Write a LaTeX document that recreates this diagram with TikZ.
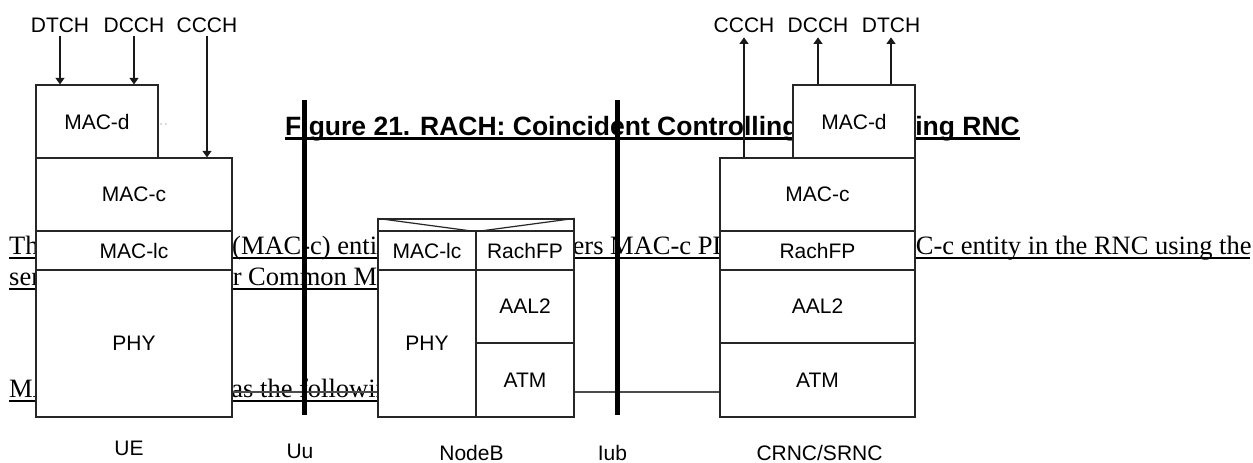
\documentclass[tikz,border=0pt]{standalone}
\usepackage{fontspec}
\setmainfont{Liberation Serif}
\newfontfamily\arialfont{Liberation Sans}
\usetikzlibrary{arrows.meta}
\tikzset{
  layer/.style={draw=black!85, fill=white, line width=1.2pt, rectangle, inner sep=0pt,
    font=\arialfont\fontsize{21}{24}\selectfont},
  chan/.style={font=\arialfont\fontsize{21}{24}\selectfont, inner sep=3.5pt, anchor=base},
  entity/.style={font=\arialfont\fontsize{21}{24}\selectfont, inner sep=0pt, anchor=base},
  para/.style={font=\fontsize{26.5}{30}\selectfont, inner sep=0pt, anchor=base west},
  ttl/.style={font=\arialfont\bfseries\fontsize{26.5}{30}\selectfont, inner sep=0pt},
  iface/.style={line width=5pt, black},
  link/.style={line width=1.2pt, black!70},
  chanarrow/.style={line width=1.1pt, black!90, -{Triangle[width=9pt,length=6.5pt]}},
  uline/.style={line width=2pt, black},
}
\begin{document}
\begin{tikzpicture}[x=1pt,y=-1pt]
\useasboundingbox (0,0) rectangle (1253,463);
% background document text
\node[ttl, anchor=base west] (ttlA) at (285,135) {Figure 21. RACH: Coincident Controlling};
\node[ttl, anchor=base east] (ttlB) at (1020,135) {Serving RNC};
\draw[line width=3pt] (ttlA.base west |- 0,138.5) -- (ttlB.base east |- 0,138.5);
\node[para] (p1a) at (9,254) {The};
\node[para] (p1b) at (232,254) {(MAC-c) entity};
\node[para] (p1c) at (519.5,254) {delivers MAC-c PDUs};
\node[para] (p1d) at (873,254) {MAC-c entity in the RNC using the};
\node[para] (p2a) at (9,285) {services};
\node[para] (p2b) at (210.5,285) {for Common MAC};
\node[para] (p3a) at (9,397) {MAC};
\node[para] (p3b) at (218,397) {has the following};
\draw[uline] (9,257.7) -- (1250,257.7);
\draw[uline] (9,289) -- (378,289);
\draw[uline] (9,400.5) -- (378,400.5);
% UE stack
\node[layer, minimum width=122, minimum height=73] (macdU) at (97,121.5) {MAC-d};
\node[layer, minimum width=196, minimum height=73] (maccU) at (134,194.5) {MAC-c};
\node[layer, minimum width=196, minimum height=39] (maclcU) at (134,250.5) {MAC-lc};
\node[layer, minimum width=196, minimum height=147] (phyU) at (134,343.5) {PHY};
\fill[black!60] (161,124) circle (0.7) (166,124) circle (0.7);
% NodeB stack
\node[layer, minimum width=196, minimum height=12] (topB) at (476,225) {};
\draw[black!85, line width=1.2pt] (topB.north west) -- (topB.south) -- (topB.north east);
\node[layer, minimum width=98, minimum height=39] (maclcB) at (427,250.5) {MAC-lc};
\node[layer, minimum width=98, minimum height=39] (rachB) at (525,250.5) {RachFP};
\node[layer, minimum width=98, minimum height=147] (phyB) at (427,343.5) {PHY};
\node[layer, minimum width=98, minimum height=73] (aalB) at (525,306.5) {AAL2};
\node[layer, minimum width=98, minimum height=74] (atmB) at (525,380) {ATM};
% CRNC/SRNC stack
\node[layer, minimum width=122, minimum height=73] (macdR) at (854,121.5) {MAC-d};
\node[layer, minimum width=195, minimum height=73] (maccR) at (817.5,194.5) {MAC-c};
\node[layer, minimum width=195, minimum height=39] (rachR) at (817.5,250.5) {RachFP};
\node[layer, minimum width=195, minimum height=73] (aalR) at (817.5,306.5) {AAL2};
\node[layer, minimum width=195, minimum height=74] (atmR) at (817.5,380) {ATM};
% links
\draw[link] ([yshift=-48.5pt]phyU.east) -- ([yshift=-48.5pt]phyB.west);
\draw[link] ([yshift=-12pt]atmB.east) -- ([yshift=-12pt]atmR.west);
% logical channels
\node[chan] (dtchU) at (60,32) {DTCH};
\node[chan] (dcchU) at (134,32) {DCCH};
\node[chan] (ccchU) at (207,32) {CCCH};
\node[chan] (ccchR) at (744,32) {CCCH};
\node[chan] (dcchR) at (818,32) {DCCH};
\node[chan] (dtchR) at (891,32) {DTCH};
\draw[chanarrow] (dtchU.south) -- (dtchU.south |- macdU.north);
\draw[chanarrow] (dcchU.south) -- (dcchU.south |- macdU.north);
\draw[chanarrow] (ccchU.south) -- (ccchU.south |- maccU.north);
\draw[chanarrow] (ccchR.south |- maccR.north) -- ([yshift=-1.5pt]ccchR.south);
\draw[chanarrow] (dcchR.south |- macdR.north) -- ([yshift=-1.5pt]dcchR.south);
\draw[chanarrow] (dtchR.south |- macdR.north) -- ([yshift=-1.5pt]dtchR.south);
% interfaces
\coordinate (uuTop) at (304,100);
\coordinate (uuBot) at (304,415);
\coordinate (iubTop) at (617,100);
\coordinate (iubBot) at (617,415);
\draw[iface] (uuTop) -- (uuBot);
\draw[iface] (iubTop) -- (iubBot);
% entity labels
\node[entity] (ueL) at (129,455) {UE};
\node[entity] (uuL) at (300,458) {Uu};
\node[entity] (nbL) at (471.5,460) {NodeB};
\node[entity] (iubL) at (612.5,460) {Iub};
\node[entity] (rncL) at (819.5,460) {CRNC/SRNC};
\end{tikzpicture}
\end{document}
